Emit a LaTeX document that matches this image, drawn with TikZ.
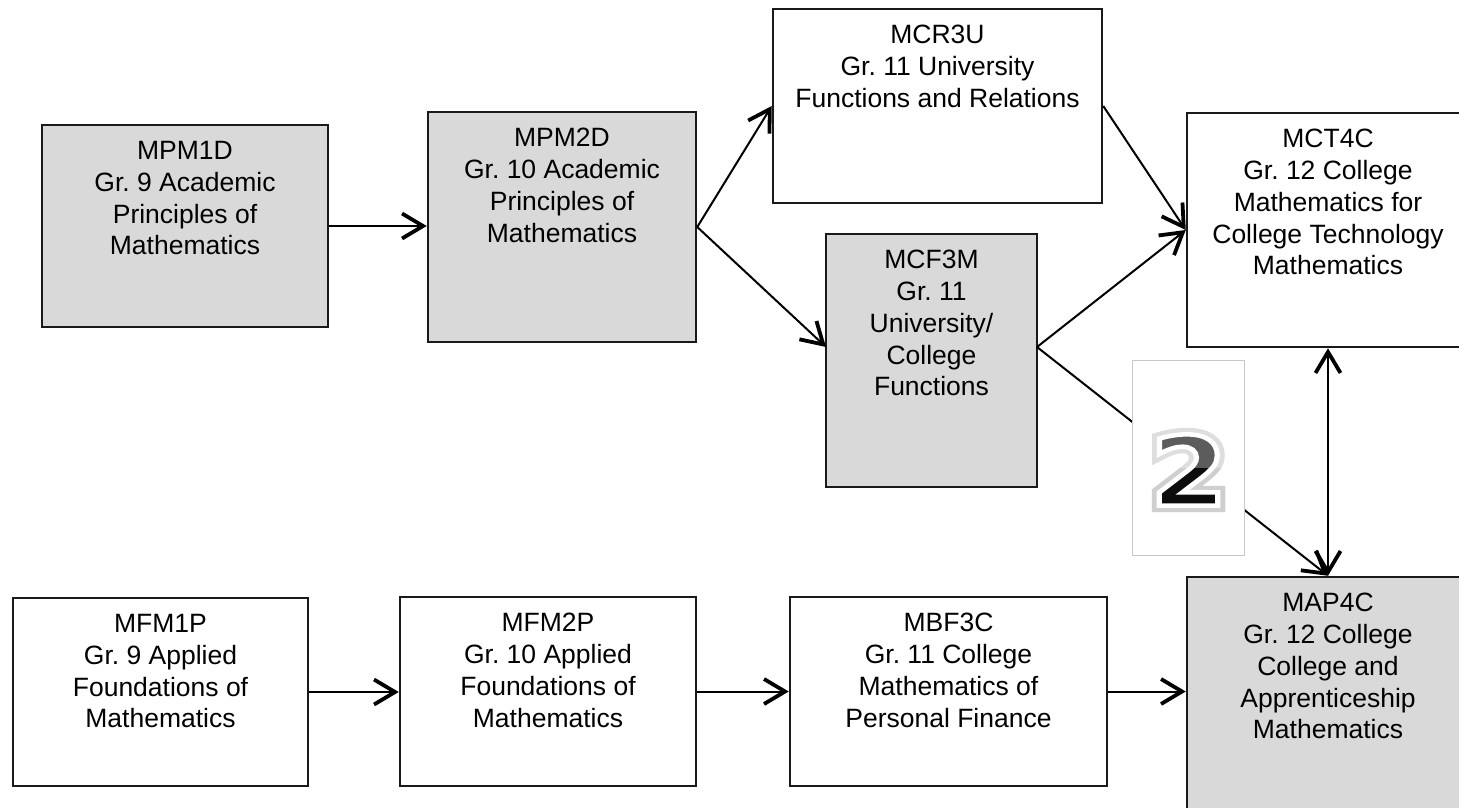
\documentclass[tikz,border=0pt]{standalone}
\usepackage{fontspec}
\setmainfont{Liberation Sans}
\newfontfamily\badgefont{DejaVu Sans}
\usetikzlibrary{arrows.meta,calc}
\frenchspacing
\definecolor{boxgray}{HTML}{D9D9D9}
\definecolor{edgecol}{HTML}{1A1A1A}
\definecolor{badgeedge}{HTML}{C8C8C8}
\definecolor{glowgray}{HTML}{CFCFCF}
\definecolor{twobot}{HTML}{0C0C0C}
\newcommand\glowtwo{\special{pdf:literal 1 Tr 13 w}2\special{pdf:literal 0 Tr}}
\newcommand\fronttwo{\special{pdf:literal 2 Tr 4.5 w 1 1 1 RG}2\special{pdf:literal 0 Tr}}
\tikzset{
  box/.style={draw=edgecol, line width=2.5pt, rectangle, inner sep=0pt},
  gbox/.style={box, fill=boxgray},
  wbox/.style={box, fill=white},
  ctext/.style={anchor=north, align=center, inner sep=0pt, font=\fontsize{26.5}{31.7}\selectfont},
  barb/.tip={Straight Barb[length=21pt,width=25pt,line width=3.8pt]},
  conn/.style={draw=black, line width=2pt, -barb},
  twofont/.style={inner sep=0pt, font=\badgefont\bfseries\fontsize{96}{96}\selectfont, xscale=1.15, transform shape}
}
\begin{document}
\begin{tikzpicture}[x=1pt,y=-1pt]
\useasboundingbox (0,0) rectangle (1459,807);
\fill[white] (0,0) rectangle (1459,807);

% boxes
\node[gbox, minimum width=286, minimum height=202] (mpm1d) at (185,226) {};
\node[gbox, minimum width=268, minimum height=230] (mpm2d) at (562,227) {};
\node[wbox, minimum width=329, minimum height=194] (mcr) at (937.5,106) {};
\node[gbox, minimum width=211, minimum height=253] (mcf) at (931.5,360.5) {};
\node[wbox, minimum width=282, minimum height=234] (mct) at (1328,230) {};
\node[gbox, minimum width=282, minimum height=234] (map) at (1328,694) {};
\node[wbox, minimum width=295, minimum height=188] (mfm1) at (160.5,692) {};
\node[wbox, minimum width=296, minimum height=189] (mfm2) at (548,691.5) {};
\node[wbox, minimum width=317, minimum height=189] (mbf) at (948.5,691.5) {};

% texts
\node[ctext] (tmpm1d) at ($(mpm1d.north)+(0,17.5)$) {MPM1D\\Gr. 9 Academic\\Principles of\\Mathematics};
\node[ctext] (tmpm2d) at ($(mpm2d.north)+(0,17.5)$) {MPM2D\\Gr. 10 Academic\\Principles of\\Mathematics};
\node[ctext] (tmcr) at ($(mcr.north)+(0,17.5)$) {MCR3U\\Gr. 11 University\\Functions and Relations};
\node[ctext] (tmcf) at ($(mcf.north)+(0,17.5)$) {MCF3M\\Gr. 11\\University/\\College\\Functions};
\node[ctext] (tmct) at ($(mct.north)+(0,17.5)$) {MCT4C\\Gr. 12 College\\Mathematics for\\College Technology\\Mathematics};
\node[ctext] (tmap) at ($(map.north)+(0,17.5)$) {MAP4C\\Gr. 12 College\\College and\\Apprenticeship\\Mathematics};
\node[ctext] (tmfm1) at ($(mfm1.north)+(0,17.5)$) {MFM1P\\Gr. 9 Applied\\Foundations of\\Mathematics};
\node[ctext] (tmfm2) at ($(mfm2.north)+(0,17.5)$) {MFM2P\\Gr. 10 Applied\\Foundations of\\Mathematics};
\node[ctext] (tmbf) at ($(mbf.north)+(0,17.5)$) {MBF3C\\Gr. 11 College\\Mathematics of\\Personal Finance};

% connector anchor points
\coordinate (mcfin) at (826,347);
\coordinate (mcfout) at (1037,347);

% connectors
\draw[conn] (mpm1d.east) -- (mpm1d.east -| mpm2d.west);
\draw[conn] (mpm2d.east) -- (mcr.west);
\draw[conn] (mpm2d.east) -- (mcfin);
\draw[conn] (mcr.east) -- (mct.west);
\draw[conn] (mcfout) -- (mct.west);
\draw[conn] (mcfout) -- (map.north);
\draw[conn, barb-barb] (mct.south) -- (map.north);
\draw[conn] (mfm1.east) -- (mfm1.east -| mfm2.west);
\draw[conn] (mfm2.east) -- (mfm2.east -| mbf.west);
\draw[conn] (mbf.east) -- (mbf.east -| map.west);

% badge "2"
\node[draw=badgeedge, line width=1pt, fill=white, minimum width=112, minimum height=195, inner sep=0pt] (badge) at (1188,457.5) {};
\coordinate (tc) at (1189,470);
\node[twofont, text=glowgray] (twoglow) at (tc) {\glowtwo};
\node[twofont, text=twobot] (two) at (tc) {\fronttwo};
\fill[white, opacity=0.33] (1145,425) rectangle (1235,468);
\end{tikzpicture}
\end{document}
